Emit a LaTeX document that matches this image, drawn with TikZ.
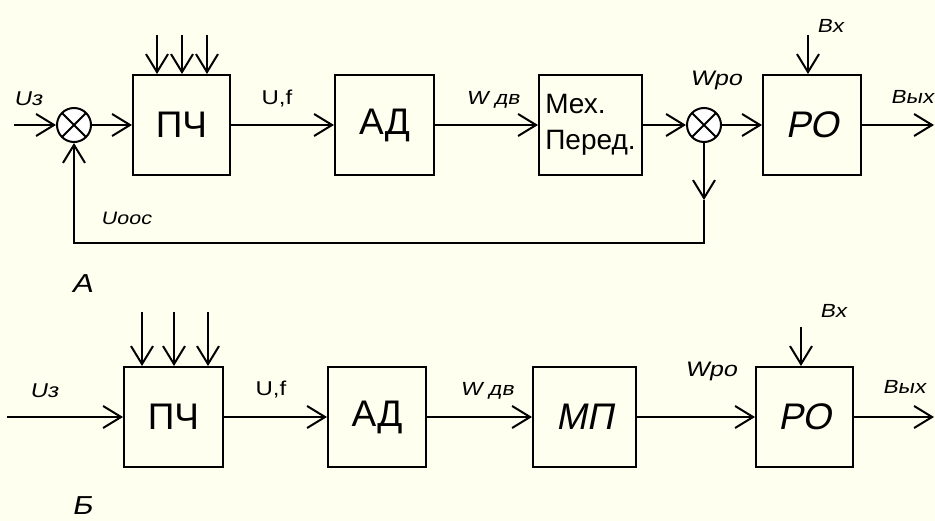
\documentclass[tikz,border=0pt]{standalone}
\usepackage{fontspec}
\setmainfont{Liberation Sans}
\newfontfamily\obliqueSans[FakeSlant=0.2,FakeStretch=1.2]{Liberation Sans}
\newfontfamily\wideSans[FakeStretch=1.2]{Liberation Sans}
\newfontfamily\blockOblique[FakeSlant=0.2]{Liberation Sans}
\usetikzlibrary{calc,arrows.meta}
\definecolor{paperCream}{RGB}{255,255,240}
\newcommand{\LblFont}[1]{\fontsize{#1}{#1}\obliqueSans}
\tikzset{
  blockbox/.style={draw,line width=2pt,minimum width=#1,minimum height=100pt,inner sep=0pt,font=\fontsize{37}{40}\selectfont},
  sumnode/.style={draw,circle,fill=white,line width=2pt,minimum size=34pt,inner sep=0pt,
    path picture={\draw[line width=2pt] (path picture bounding box.north west) -- (path picture bounding box.south east)
      (path picture bounding box.north east) -- (path picture bounding box.south west);}},
  sig/.style={line width=2pt,-{Straight Barb[length=18pt,width=22pt]}},
  lbl/.style={inner sep=0pt,font=\LblFont{#1}},
  lbl/.default=19,
}

\begin{document}
\begin{tikzpicture}[x=1pt,y=-1pt]
\useasboundingbox[fill=paperCream] (0,0) rectangle (935,521);
% scheme A
\node[sumnode] (sumInA) at (74,125) {};
\node[blockbox=97pt] (pchA) at (181.5,125) {ПЧ};
\node[blockbox=99pt] (adA) at (384.5,125) {АД};
\node[blockbox=103pt,align=left,font=\fontsize{28}{36}\selectfont] (mehA) at (590.5,125) {Мех.\\Перед.};
\node[sumnode] (sumOutA) at (704,125) {};
\node[blockbox=98pt,font=\fontsize{37}{40}\blockOblique] (roA) at (812,125) {РО};
\coordinate (inA) at (14,125);
\coordinate (outA) at (934,125);
\coordinate (vxA) at (808,35);
\coordinate (fbTipA) at (704,200);
\coordinate (fbCornerA) at (704,243);
\draw[sig] (inA) -- (sumInA);
\draw[sig] (sumInA) -- (pchA);
\draw[sig] (pchA) -- (adA);
\draw[sig] (adA) -- (mehA);
\draw[sig] (mehA) -- (sumOutA);
\draw[sig] (sumOutA) -- (roA);
\draw[sig] (roA) -- (outA);
\draw[sig] (vxA) -- (vxA|-roA.north);
\foreach \x in {157,182,207}{
  \coordinate (srcA) at (\x,35);
  \draw[sig] (srcA) -- (srcA|-pchA.north);
}
\draw[sig] (sumOutA) -- (fbTipA);
\draw[sig] (fbTipA) -- (fbCornerA) -| (sumInA);
\node[lbl=20] (uzA) at (28,99) {Uз};
\node[inner sep=0pt,font=\fontsize{20}{20}\wideSans] (ufA) at (277,99) {U,f};
\node[lbl] (wdvA) at (493,100) {W дв};
\node[lbl=21] (wroA) at (716,80) {Wро};
\node[lbl] (bxA) at (830,26) {Вх};
\node[lbl] (byxA) at (912,97) {Вых};
\node[lbl=18] (uoosA) at (126,218) {Uоос};
\node[lbl=26] (capA) at (82,284) {А};
% scheme B
\node[blockbox=99pt] (pchB) at (173.5,417) {ПЧ};
\node[blockbox=98pt] (adB) at (377,417) {АД};
\node[blockbox=103pt,font=\fontsize{37}{40}\blockOblique] (mpB) at (584.5,417) {МП};
\node[blockbox=97pt,font=\fontsize{37}{40}\blockOblique] (roB) at (804.5,417) {РО};
\coordinate (inB) at (7,417);
\coordinate (outB) at (934,417);
\coordinate (vxB) at (801,327);
\draw[sig] (inB) -- (pchB);
\draw[sig] (pchB) -- (adB);
\draw[sig] (adB) -- (mpB);
\draw[sig] (mpB) -- (roB);
\draw[sig] (roB) -- (outB);
\draw[sig] (vxB) -- (vxB|-roB.north);
\foreach \x in {142,174,208}{
  \coordinate (srcB) at (\x,312);
  \draw[sig] (srcB) -- (srcB|-pchB.north);
}
\node[lbl=20] (uzB) at (44,391) {Uз};
\node[inner sep=0pt,font=\fontsize{20}{20}\wideSans] (ufB) at (271,390) {U,f};
\node[lbl] (wdvB) at (487,391) {W дв};
\node[lbl=21] (wroB) at (711,371) {Wро};
\node[lbl] (bxB) at (833,311) {Вх};
\node[lbl] (byxB) at (904,387) {Вых};
\node[lbl=26] (capB) at (82,506) {Б};
\end{tikzpicture}
\end{document}
